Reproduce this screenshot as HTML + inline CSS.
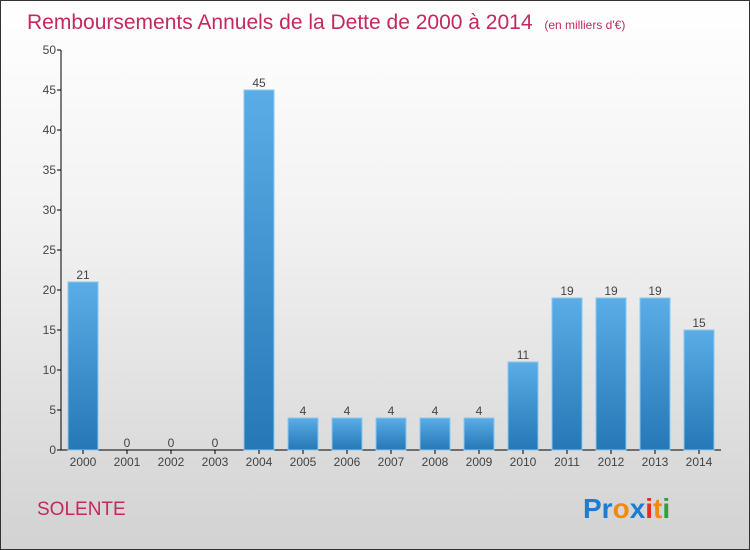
<!DOCTYPE html>
<html><head><meta charset="utf-8"><style>
body{margin:0}
#c{width:748px;height:548px;border:1px solid #333;background:linear-gradient(#ffffff,#f2f2f2 40%,#d2d2d2);position:relative;overflow:hidden;font-family:"Liberation Sans",sans-serif}
</style></head><body>
<div id="c">
<svg id="s" width="748" height="548" style="position:absolute;left:0;top:0">
<defs><linearGradient id="g" x1="0" y1="0" x2="0" y2="1"><stop offset="0" stop-color="#5aade6"/><stop offset="1" stop-color="#2677b6"/></linearGradient></defs>
<text x="26" y="28" font-size="21" fill="#c4285e">Remboursements Annuels de la Dette de 2000 à 2014 <tspan font-size="12" dx="6">(en milliers d'€)</tspan></text>
<g id="plot"></g>
<text x="36" y="514" font-size="19" fill="#c4285e">SOLENTE</text>
<text x="582" y="517" font-size="28" font-weight="bold"><tspan fill="#1a7fd4">Pr</tspan><tspan fill="#f08a10">o</tspan><tspan fill="#1a7fd4">x</tspan><tspan fill="#e03020">i</tspan><tspan fill="#f08a10">t</tspan><tspan fill="#30a040">i</tspan></text>
</svg></div>
<script>
const categories=["2000","2001","2002","2003","2004","2005","2006","2007","2008","2009","2010","2011","2012","2013","2014"];
const values=[21,0,0,0,45,4,4,4,4,4,11,19,19,19,15];
const yTicks=[0,5,10,15,20,25,30,35,40,45,50];
const NS="http://www.w3.org/2000/svg";
const p=document.getElementById('plot');
const y0=449,yTop=49,ymax=50,x0=60,step=44,bw=30;
const Y=v=>y0-(y0-yTop)*v/ymax;
const X=i=>x0+22+i*step;
function mk(t,a){const e=document.createElementNS(NS,t);for(const k in a)e.setAttribute(k,a[k]);p.appendChild(e);return e;}
let ax=mk('line',{x1:x0,y1:yTop,x2:x0,y2:y0,stroke:'#000'});


let bx=mk('line',{x1:x0,y1:y0,x2:720,y2:y0,stroke:'#000'});


yTicks.forEach(t=>{
 mk('line',{x1:x0-4,y1:Y(t),x2:x0,y2:Y(t),stroke:'#000'});
 let l=mk('text',{x:x0-5,y:Y(t)+4,'font-size':12,fill:'#444','text-anchor':'end'});l.textContent=t;
 
 
});
categories.forEach((c,i)=>{
 const v=values[i];
 if(v>0){let r=mk('rect',{x:X(i)-bw/2,y:Y(v),width:bw,height:y0-Y(v),fill:'url(#g)',stroke:'#8cc6ee','stroke-width':1});
 
 }
 let vl=mk('text',{x:X(i),y:Y(v)-3,'font-size':12,fill:'#444','text-anchor':'middle'});vl.textContent=v;
 
 
 mk('line',{x1:X(i),y1:y0,x2:X(i),y2:y0+4,stroke:'#000'});
 let xl=mk('text',{x:X(i),y:y0+16,'font-size':12,fill:'#444','text-anchor':'middle'});xl.textContent=c;
 
 
});
</script>
</body></html>
